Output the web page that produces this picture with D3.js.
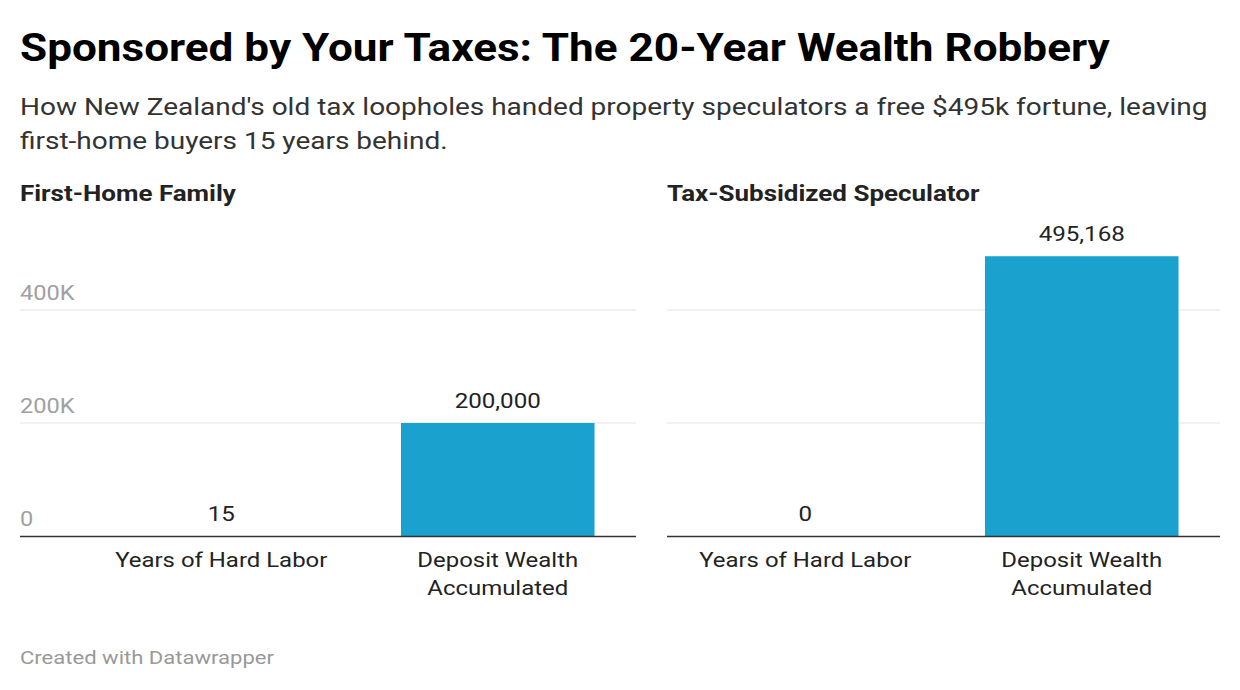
<!DOCTYPE html>
<html><head><meta charset="utf-8">
<script src="https://cdn.jsdelivr.net/npm/d3@7"></script>
<style>body{margin:0;background:#fff;font-family:Roboto,sans-serif}</style>
</head><body><div id="chart"></div>
<script>
var categories = ["Years of Hard Labor", "Deposit Wealth Accumulated"];
var panels = ["First-Home Family", "Tax-Subsidized Speculator"];
var familyValues = [15, 200000];
var speculatorValues = [0, 495168];
var tickValues = [0, 200000, 400000];
var tickLabels = ["0", "200K", "400K"];

var svg = d3.select("#chart").append("svg").attr("width", 1240).attr("height", 690);

// the reference font renders wider than local Roboto, stretch to match
function stretch(sel, f) {
  sel.each(function() {
    var w = this.getComputedTextLength();
    d3.select(this).attr("textLength", w * f).attr("lengthAdjust", "spacingAndGlyphs");
  });
  return sel;
}

stretch(svg.append("text").attr("x", 20).attr("y", 61).attr("font-size", 38).attr("font-weight", 700)
  .attr("fill", "#000").text("Sponsored by Your Taxes: The 20-Year Wealth Robbery"), 1.16);
stretch(svg.append("text").attr("x", 20).attr("y", 115).attr("font-size", 24).attr("fill", "#333")
  .text("How New Zealand's old tax loopholes handed property speculators a free $495k fortune, leaving"), 1.166);
stretch(svg.append("text").attr("x", 20).attr("y", 149).attr("font-size", 24).attr("fill", "#333")
  .text("first-home buyers 15 years behind."), 1.166);

var y = d3.scaleLinear().domain([0, 400000]).range([536, 310]);

function panel(title, values, x0, x1, barStart, showTicks) {
  var g = svg.append("g");
  stretch(g.append("text").attr("x", x0).attr("y", 201).attr("font-size", 22).attr("font-weight", 700)
    .attr("fill", "#222").text(title), 1.18);
  var x = d3.scaleBand().domain(categories).range([barStart, x1]).paddingInner(0.3).paddingOuter(0.15);
  tickValues.forEach(function(t, i) {
    if (t > 0) g.append("line").attr("x1", x0).attr("x2", x1).attr("y1", y(t)).attr("y2", y(t))
      .attr("stroke", "#e2e2e2");
    if (showTicks) stretch(g.append("text").attr("x", x0).attr("y", y(t) - 10).attr("font-size", 20)
      .attr("fill", "#a0a0a0").text(tickLabels[i]), 1.18);
  });
  g.selectAll("rect").data(values).enter().append("rect")
    .attr("x", function(d, i) { return x(categories[i]); })
    .attr("width", x.bandwidth())
    .attr("y", function(d) { return y(d); })
    .attr("height", function(d) { return y(0) - y(d); })
    .attr("fill", "#1aa1ce");
  stretch(g.selectAll("text.val").data(values).enter().append("text").attr("class", "val")
    .attr("x", function(d, i) { return x(categories[i]) + x.bandwidth() / 2; })
    .attr("y", function(d) { return y(d) - 15; })
    .attr("text-anchor", "middle").attr("font-size", 21).attr("fill", "#222")
    .text(function(d) { return d3.format(",")(d); }), 1.15);
  g.append("line").attr("x1", x0).attr("x2", x1).attr("y1", 536.5).attr("y2", 536.5)
    .attr("stroke", "#333").attr("stroke-width", 1.5);
  categories.forEach(function(c) {
    var words = c === "Deposit Wealth Accumulated" ? ["Deposit Wealth", "Accumulated"] : [c];
    words.forEach(function(w, j) {
      stretch(g.append("text").attr("x", x(c) + x.bandwidth() / 2).attr("y", 567 + j * 28)
        .attr("text-anchor", "middle").attr("font-size", 21).attr("fill", "#222").text(w), 1.14);
    });
  });
}

panel(panels[0], familyValues, 20, 636, 83, true);
panel(panels[1], speculatorValues, 667, 1220, 667, false);

stretch(svg.append("text").attr("x", 20).attr("y", 664).attr("font-size", 19).attr("fill", "#999")
  .text("Created with Datawrapper"), 1.16);
</script></body></html>
